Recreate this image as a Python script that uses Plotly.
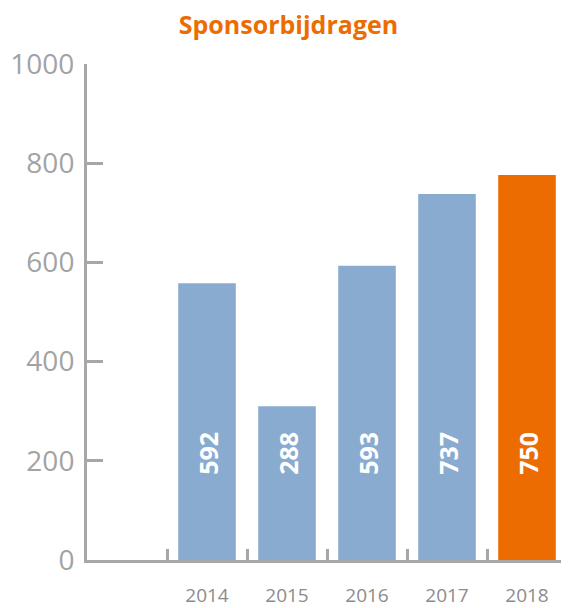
import plotly.graph_objects as go

# categorieën: eerste is leeg (ruimte voor de as)
jaren = [" ", "2014", "2015", "2016", "2017", "2018"]
# hoogtes van de balken zoals
bijdragen = [None, 558, 310, 593, 738, 776]
# labels in de balken
labels = ["", "592", "288", "593", "737", "750"]
y_ticks = [0, 200, 400, 600, 800, 1000]

BLAUW = "#8aabd0"
ORANJE = "#ed6c02"
GRIJS = "#a8a6a6"

kleuren = [BLAUW] * (len(jaren) - 1) + [ORANJE]

fig = go.Figure()

fig.add_trace(
    go.Bar(
        x=jaren,
        y=bijdragen,
        marker=dict(color=kleuren, line=dict(width=0)),
        width=0.72,
        hoverinfo="skip",
    )
)

# labels staan allemaal op dezelfde hoogte onderin de balk
label_hoogte = 214
for i, label in enumerate(labels):
    if not label:
        continue
    fig.add_annotation(
        x=i,  # positie van de categorie
        y=label_hoogte,
        text="<b>" + label + "</b>",
        textangle=-90,
        showarrow=False,
        xshift=1,
        font=dict(family="Open Sans", size=25, color="white"),
    )

# de pagina heeft 8px body-marge, dus figuur iets kleiner
fig.update_layout(
    width=561,
    height=600,
    plot_bgcolor="white",
    paper_bgcolor="white",
    showlegend=False,
    margin=dict(l=79, r=2, t=56, b=48, pad=0, autoexpand=False),
    title=dict(
        text="<b>Sponsorbijdragen</b>",
        x=0.5,
        xanchor="center",
        y=0.972,
        yanchor="middle",
        font=dict(family="Open Sans", size=25, color=ORANJE),
    ),
)

fig.update_xaxes(
    type="category",
    categoryorder="array",
    categoryarray=jaren,
    range=[-0.5, len(jaren) - 0.5],
    showline=True,
    linecolor=GRIJS,
    linewidth=3,
    showgrid=False,
    zeroline=False,
    ticks="inside",
    tickson="boundaries",
    ticklen=11,
    tickwidth=3,
    tickcolor=GRIJS,
    ticklabelstandoff=16,
    tickfont=dict(family="Open Sans", size=19, color="#8c8c8c"),
)

fig.update_yaxes(
    range=[0, 1000],
    tickvals=y_ticks,
    showline=True,
    linecolor=GRIJS,
    linewidth=3,
    showgrid=False,
    zeroline=False,
    ticks="inside",
    ticklen=16,
    tickwidth=3,
    tickcolor=GRIJS,
    ticklabelstandoff=4,
    tickfont=dict(family="Open Sans", size=28, color="#a3a3a3"),
)

fig.write_html("out.html")
